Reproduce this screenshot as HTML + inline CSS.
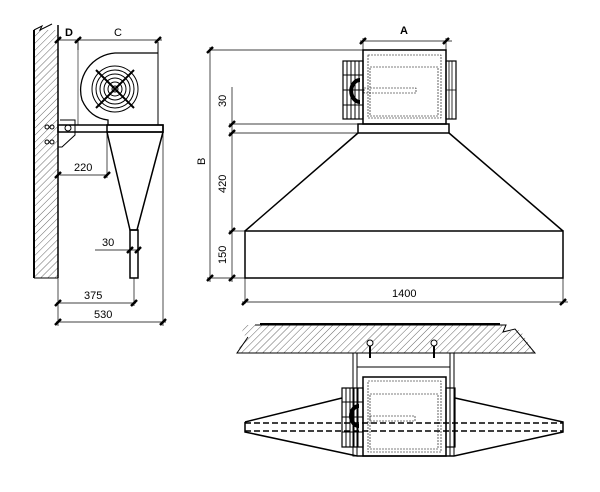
<!DOCTYPE html>
<html><head><style>body{margin:0;background:#fff}svg{display:block}text{font-family:"Liberation Sans",sans-serif;font-size:11px;fill:#000}</style></head>
<body>
<svg width="600" height="492" viewBox="0 0 600 492" xmlns="http://www.w3.org/2000/svg">
<defs>
<pattern id="h" width="5" height="5" patternUnits="userSpaceOnUse" patternTransform="rotate(45)"><line x1="0" y1="0" x2="0" y2="5" stroke="#000" stroke-width="0.6"/></pattern>
<g id="tk"><line x1="-3" y1="3" x2="3" y2="-3" stroke="#000" stroke-width="2.5"/></g>
</defs>
<g stroke="#000" fill="none" stroke-width="1">
<!-- LEFT VIEW -->
<rect x="34" y="30" width="24" height="248" fill="url(#h)" stroke="none"/>
<line x1="34" y1="30" x2="34" y2="278" stroke-width="2"/>
<line x1="58" y1="25" x2="58" y2="278" stroke-width="1.5"/>
<path d="M34 30 L42 26 L40 30 L52 24"/>
<line x1="34" y1="278" x2="58" y2="278"/>
<!-- fan housing -->
<line x1="158" y1="42" x2="158" y2="125"/>
<line x1="78" y1="42" x2="78" y2="125" stroke-width="0.6"/>
<path d="M158 53 L115 53 A37 37 0 0 0 82 100 Q90 118 108 120 L108 125" stroke-width="1.3"/>
<circle cx="115" cy="89" r="23" stroke-width="1"/>
<circle cx="115" cy="89" r="19"/><circle cx="115" cy="89" r="15"/><circle cx="115" cy="89" r="11"/><circle cx="115" cy="89" r="7"/><circle cx="115" cy="89" r="3"/>
<line x1="96" y1="70" x2="134" y2="108" stroke-width="2"/>
<line x1="134" y1="70" x2="96" y2="108" stroke-width="2"/>
<!-- bracket -->
<rect x="58" y="125" width="105" height="7" stroke-width="1.5"/>
<rect x="107" y="125" width="56" height="7" stroke-width="1.5"/>
<path d="M60 120 L75 120 L75 135 L62 147 L58 147" stroke-width="1"/>
<circle cx="68" cy="128" r="3"/>
<circle cx="52" cy="127" r="2" /><circle cx="47" cy="127" r="2"/><circle cx="52" cy="142" r="2"/><circle cx="47" cy="142" r="2"/>
<!-- cone -->
<path d="M107 132 L130 230 L137 230 L163 132" stroke-width="1.5"/>
<rect x="130" y="230" width="8" height="48" stroke-width="1.5"/>
<!-- left dims -->
<line x1="58" y1="40" x2="162" y2="40" stroke-width="0.7"/>
<line x1="78" y1="38" x2="78" y2="50" stroke-width="0.7"/>
<line x1="60" y1="175" x2="108" y2="175" stroke-width="0.7"/>
<line x1="107" y1="132" x2="107" y2="178" stroke-width="0.7"/>
<line x1="95" y1="250" x2="140" y2="250" stroke-width="0.7"/>
<line x1="58" y1="278" x2="58" y2="326" stroke-width="0.7"/>
<line x1="134" y1="278" x2="134" y2="306" stroke-width="0.7"/>
<line x1="163" y1="132" x2="163" y2="326" stroke-width="0.7"/>
<line x1="56" y1="303" x2="136" y2="303" stroke-width="0.7"/>
<line x1="56" y1="322" x2="166" y2="322" stroke-width="0.7"/>
<!-- MAIN FRONT VIEW -->
<line x1="210" y1="50" x2="363" y2="50" stroke-width="0.7"/>
<line x1="210" y1="47" x2="210" y2="282" stroke-width="0.7"/>
<line x1="232" y1="87" x2="232" y2="282" stroke-width="0.7"/>
<line x1="229" y1="124" x2="358" y2="124" stroke-width="0.7"/>
<line x1="229" y1="133" x2="358" y2="133" stroke-width="0.7"/>
<line x1="229" y1="231" x2="245" y2="231" stroke-width="0.7"/>
<line x1="207" y1="278" x2="245" y2="278" stroke-width="0.7"/>
<rect x="363" y="50" width="83" height="74" stroke-width="1.5"/>
<rect x="368" y="55" width="73" height="63" stroke-dasharray="2,1" stroke-width="0.6"/>
<rect x="370" y="67" width="68" height="49" stroke-dasharray="2,1" stroke-width="0.6"/>
<rect x="364" y="88" width="52" height="5" stroke-dasharray="2,1" stroke-width="0.6"/>
<rect x="343" y="61" width="20" height="58" stroke-width="1.2"/>
<path d="M347 61V119M351 61V119M355 61V119M359 61V119M343 75H363M343 90H363M343 105H363" stroke-width="1"/>
<path d="M360 80 A8 10 0 0 0 360 102" stroke-width="4"/>
<rect x="446" y="61" width="10" height="58" stroke-width="1.2"/>
<path d="M449 61V119M452 61V119M446 90H456" stroke-width="0.8"/>
<rect x="358" y="124" width="91" height="9" stroke-width="1.5"/>
<path d="M358 133 L245 231 M449 133 L563 231" stroke-width="1.5"/>
<rect x="245" y="231" width="318" height="47" stroke-width="1.5"/>
<line x1="363" y1="38" x2="363" y2="50" stroke-width="0.7"/>
<line x1="446" y1="38" x2="446" y2="50" stroke-width="0.7"/>
<line x1="360" y1="41" x2="452" y2="41" stroke-width="0.7"/>
<line x1="245" y1="278" x2="245" y2="304" stroke-width="0.7"/>
<line x1="563" y1="278" x2="563" y2="304" stroke-width="0.7"/>
<line x1="242" y1="302" x2="568" y2="302" stroke-width="0.7"/>
<!-- BOTTOM VIEW -->
<path d="M237 353 L245 335 L240 336 L245 325 L506 325 L501 332 L520 330 L535 353 Z" fill="url(#h)" stroke="none"/>
<path d="M255 325 L506 325 L503 332 L515 329 L535 353 L237 353 L248 337" stroke-width="1"/>
<line x1="260" y1="324" x2="500" y2="324" stroke-width="2"/>
<rect x="353" y="353" width="4" height="103" stroke-width="1"/>
<rect x="450" y="353" width="4" height="103" stroke-width="1"/>
<line x1="357" y1="367" x2="450" y2="367"/>
<rect x="363" y="377" width="83" height="79" stroke-width="1.5"/>
<rect x="368" y="381" width="73" height="71" stroke-dasharray="2,1" stroke-width="0.6"/>
<rect x="370" y="394" width="68" height="55" stroke-dasharray="2,1" stroke-width="0.6"/>
<rect x="370" y="416" width="45" height="5" stroke-dasharray="2,1" stroke-width="0.6"/>
<line x1="370" y1="340" x2="370" y2="358" stroke-width="2"/>
<line x1="434" y1="340" x2="434" y2="358" stroke-width="2"/>
<circle cx="370" cy="343" r="3" fill="#fff"/><circle cx="434" cy="343" r="3" fill="#fff"/>
<rect x="342" y="388" width="21" height="59" stroke-width="1.2"/>
<path d="M346 388V447M350 388V447M354 388V447M358 388V447M342 402H363M342 417H363M342 432H363" stroke-width="1"/>
<path d="M359 406 A8 10 0 0 0 359 426" stroke-width="4"/>
<rect x="446" y="388" width="9" height="59" stroke-width="1.2"/>
<path d="M245 422 L342 398 M245 422 L245 432 L357 456 M455 398 L563 422 L563 432 L454 456" stroke-width="1.5"/>
<line x1="245" y1="423" x2="563" y2="423" stroke-dasharray="6,3" stroke-width="1.5"/>
<line x1="245" y1="431" x2="563" y2="431" stroke-dasharray="6,3" stroke-width="1.5"/>
<line x1="357" y1="456" x2="454" y2="456" stroke-width="1.5"/>
</g>
<g>
<use href="#tk" x="58" y="40"/><use href="#tk" x="78" y="40"/><use href="#tk" x="158" y="40"/>
<use href="#tk" x="58" y="175"/><use href="#tk" x="107" y="175"/>
<use href="#tk" x="130" y="250"/><use href="#tk" x="138" y="250"/>
<use href="#tk" x="58" y="303"/><use href="#tk" x="134" y="303"/>
<use href="#tk" x="58" y="322"/><use href="#tk" x="163" y="322"/>
<use href="#tk" x="210" y="50"/><use href="#tk" x="210" y="278"/>
<use href="#tk" x="232" y="124"/><use href="#tk" x="232" y="133"/><use href="#tk" x="232" y="231"/><use href="#tk" x="232" y="278"/>
<use href="#tk" x="363" y="41"/><use href="#tk" x="446" y="41"/>
<use href="#tk" x="245" y="302"/><use href="#tk" x="563" y="302"/>
</g>
<text x="65" y="36" font-weight="bold">D</text>
<text x="114" y="36">C</text>
<text x="74" y="171">220</text>
<text x="102" y="246">30</text>
<text x="84" y="299">375</text>
<text x="94" y="318">530</text>
<text x="400" y="34" font-weight="bold">A</text>
<text x="392" y="297">1400</text>
<text transform="translate(205,165) rotate(-90)">B</text>
<text transform="translate(226,107) rotate(-90)">30</text>
<text transform="translate(226,193) rotate(-90)">420</text>
<text transform="translate(226,264) rotate(-90)">150</text>
</svg>
</body></html>
